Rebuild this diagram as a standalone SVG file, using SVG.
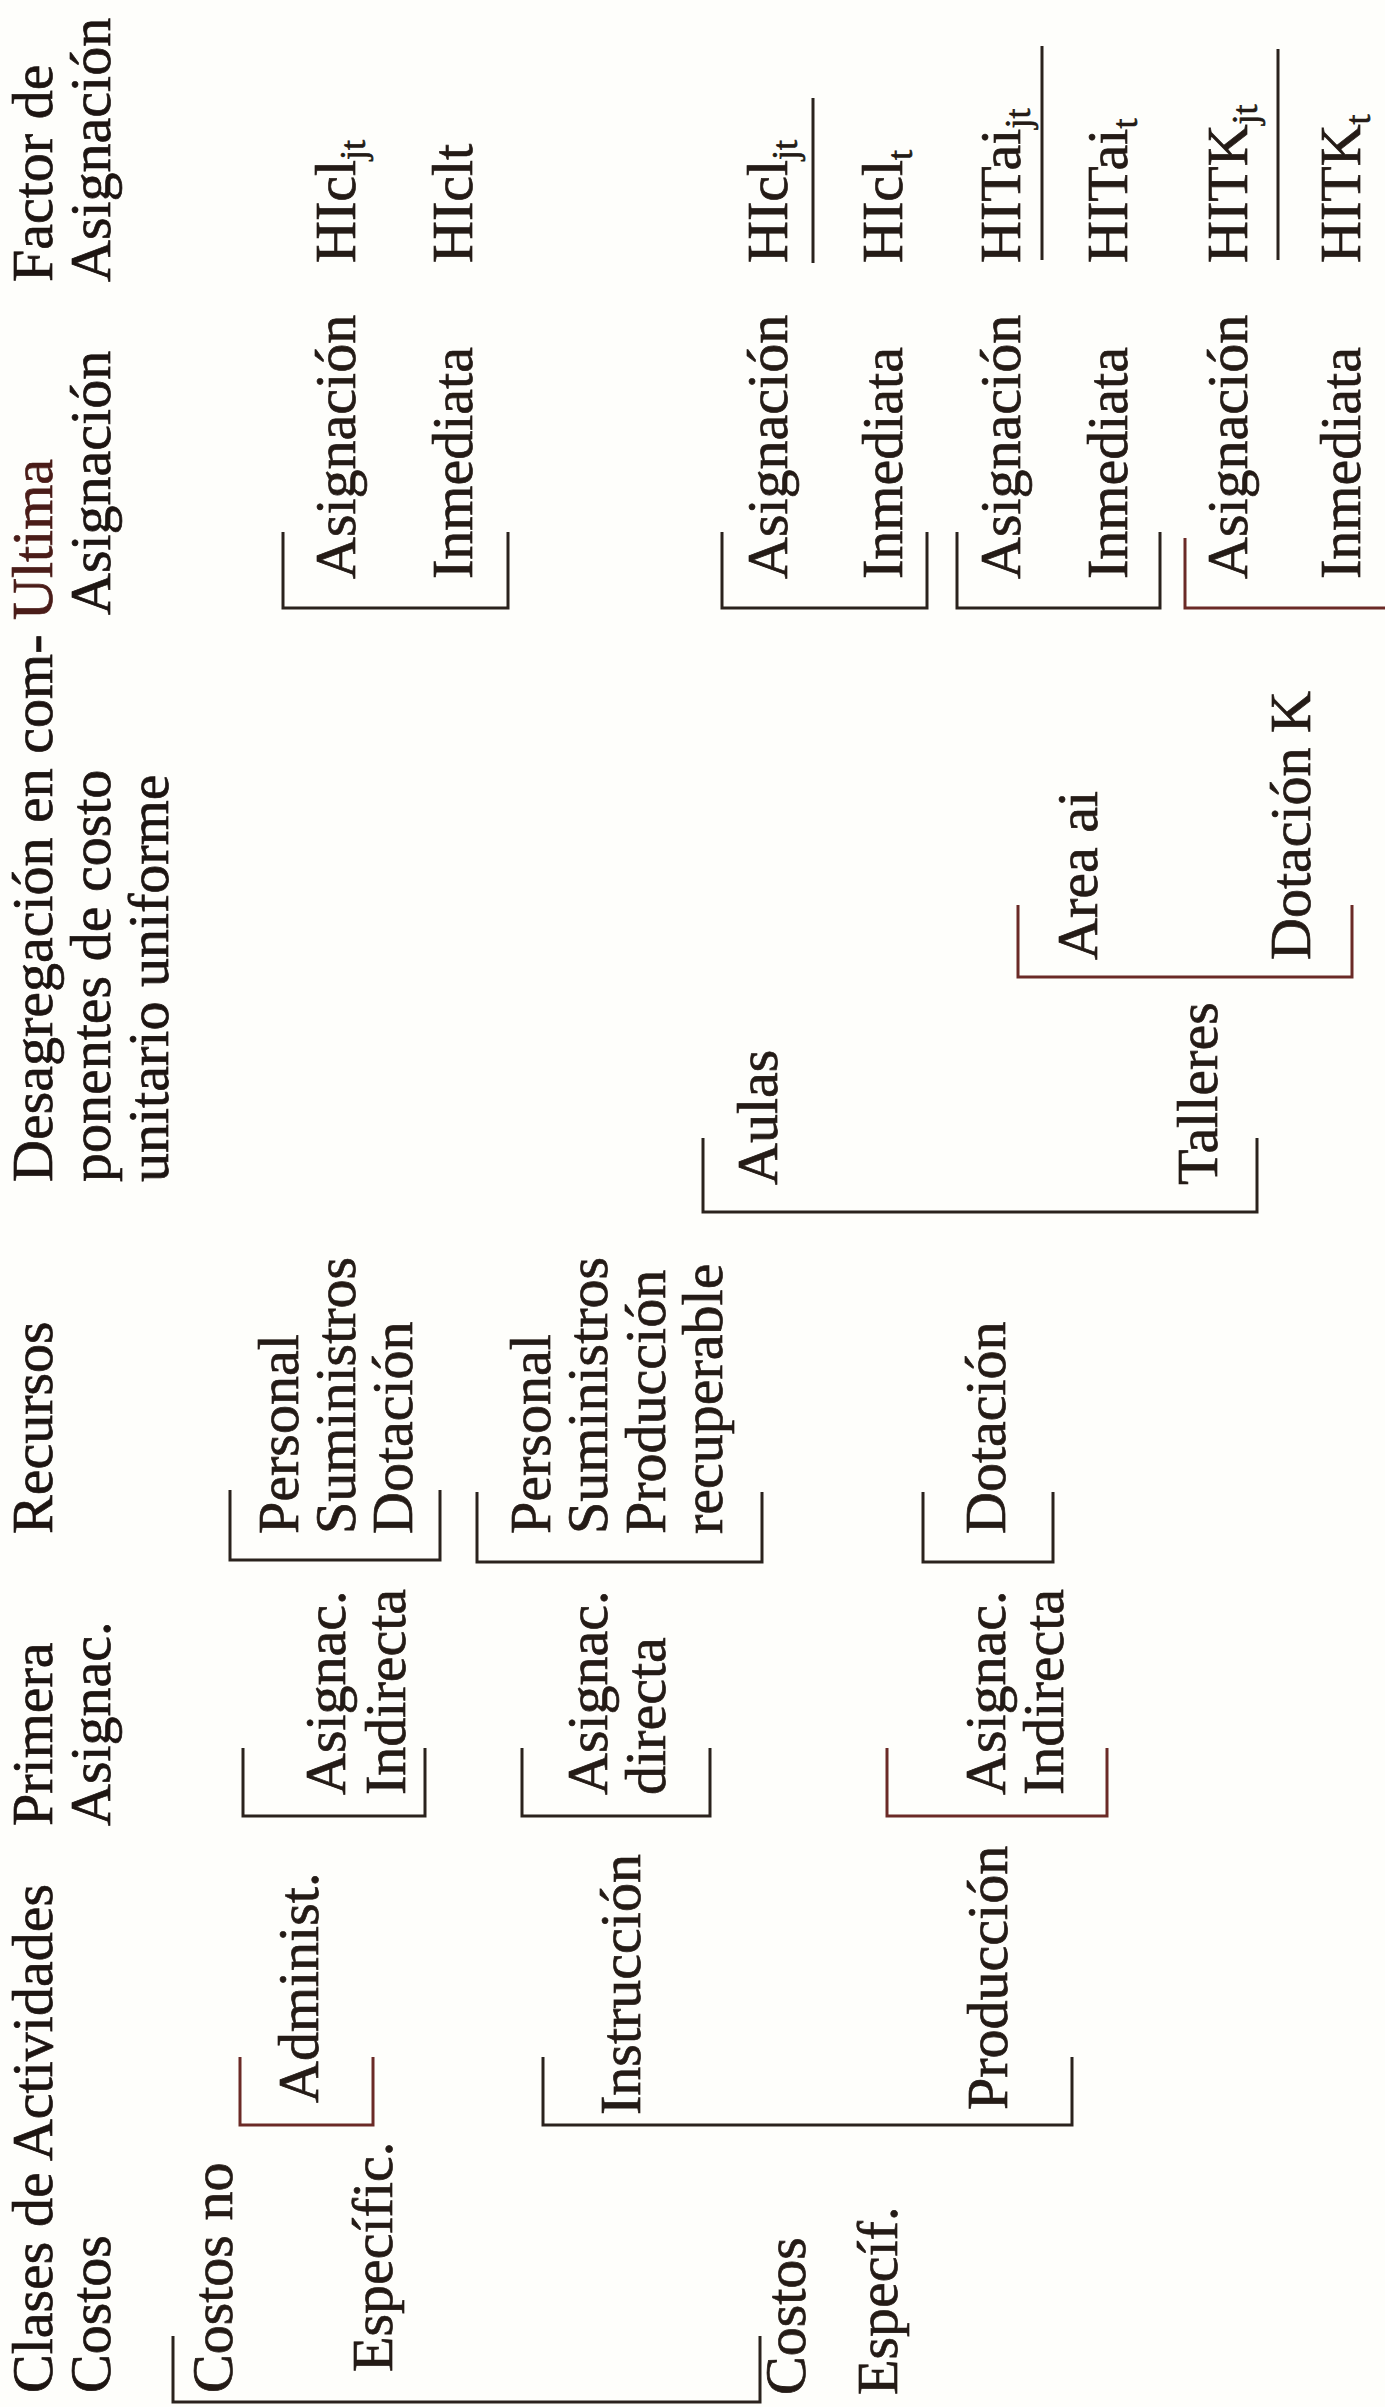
<svg xmlns="http://www.w3.org/2000/svg" width="1385" height="2407" viewBox="0 0 1385 2407">
<style>
text{font-family:"Liberation Serif","Times New Roman",serif;font-size:58px;fill:#241b16;stroke:#241b16;stroke-width:0.7}
.h{fill:#1d1512;stroke:#1d1512}
.r{fill:#4a1c18;stroke:#4a1c18}
.sub{font-size:36px}
.br{fill:none;stroke:#2a221d;stroke-width:3}
.red{stroke:#6b2a26}
.bar{stroke:#2a221d;stroke-width:3}
</style>
<rect width="1385" height="2407" fill="#fefefb"/>
<g id="headers">
<text class="h" transform="translate(52,2393) rotate(-90)">Clases de Actividades</text>
<text class="h" transform="translate(110,2393) rotate(-90)">Costos</text>
<text class="h" transform="translate(52,1826) rotate(-90)">Primera</text>
<text class="h" transform="translate(110,1826) rotate(-90)">Asignac.</text>
<text class="h" transform="translate(52,1534) rotate(-90)">Recursos</text>
<text class="h" transform="translate(52,1182) rotate(-90)">Desagregación en com-</text>
<text class="h" transform="translate(110,1182) rotate(-90)">ponentes de costo</text>
<text class="h" transform="translate(168,1182) rotate(-90)">unitario uniforme</text>
<text class="r" transform="translate(52,620) rotate(-90)">Ultima</text>
<text class="h" transform="translate(110,615) rotate(-90)">Asignación</text>
<text class="h" transform="translate(52,282) rotate(-90)">Factor de</text>
<text class="h" transform="translate(110,282) rotate(-90)">Asignación</text>
</g>
<g id="connectors">
<path class="br" d="M173,2336 V2402 H760 V2336"/>
<path class="br red" d="M240,2057 V2125 H373 V2057"/>
<path class="br" d="M543,2057 V2125 H1072 V2057"/>
<path class="br" d="M243,1748 V1816 H425 V1748"/>
<path class="br" d="M522,1748 V1816 H710 V1748"/>
<path class="br red" d="M887,1748 V1816 H1107 V1748"/>
<path class="br" d="M230,1490 V1560 H440 V1490"/>
<path class="br" d="M477,1492 V1562 H762 V1492"/>
<path class="br" d="M923,1492 V1562 H1053 V1492"/>
<path class="br" d="M703,1138 V1212 H1257 V1138"/>
<path class="br red" d="M1018,905 V977 H1352 V905"/>
<path class="br" d="M283,532 V608 H508 V532"/>
<path class="br" d="M722,532 V608 H927 V532"/>
<path class="br" d="M957,532 V608 H1160 V532"/>
<path class="br red" d="M1185,538 V608 H1385"/>
<line class="bar" x1="813" y1="263" x2="813" y2="98"/>
<line class="bar" x1="1042" y1="260" x2="1042" y2="46"/>
<line class="bar" x1="1278" y1="260" x2="1278" y2="49"/>
</g>
<g id="n-costos-no-especific">
<text transform="translate(232,2393) rotate(-90)">Costos no</text>
<text transform="translate(392,2372) rotate(-90)">Específic.</text>
</g>
<g id="n-administ"><text transform="translate(318,2103) rotate(-90)">Administ.</text></g>
<g id="n-costos-especif">
<text transform="translate(805,2395) rotate(-90)">Costos</text>
<text transform="translate(897,2395) rotate(-90)">Específ.</text>
</g>
<g id="n-instruccion"><text transform="translate(640,2115) rotate(-90)">Instrucción</text></g>
<g id="n-produccion"><text transform="translate(1007,2110) rotate(-90)">Producción</text></g>
<g id="n-asig-indirecta-1">
<text transform="translate(345,1795) rotate(-90)">Asignac.</text>
<text transform="translate(405,1795) rotate(-90)">Indirecta</text>
</g>
<g id="n-asig-directa">
<text transform="translate(607,1795) rotate(-90)">Asignac.</text>
<text transform="translate(665,1795) rotate(-90)">directa</text>
</g>
<g id="n-asig-indirecta-2">
<text transform="translate(1005,1795) rotate(-90)">Asignac.</text>
<text transform="translate(1063,1795) rotate(-90)">Indirecta</text>
</g>
<g id="n-recursos-1">
<text transform="translate(298,1534) rotate(-90)">Personal</text>
<text transform="translate(355,1534) rotate(-90)">Suministros</text>
<text transform="translate(412,1534) rotate(-90)">Dotación</text>
</g>
<g id="n-recursos-2">
<text transform="translate(550,1534) rotate(-90)">Personal</text>
<text transform="translate(607,1534) rotate(-90)">Suministros</text>
<text transform="translate(665,1534) rotate(-90)">Producción</text>
<text transform="translate(722,1534) rotate(-90)">recuperable</text>
</g>
<g id="n-recursos-3"><text transform="translate(1005,1534) rotate(-90)">Dotación</text></g>
<g id="n-aulas"><text transform="translate(777,1185) rotate(-90)">Aulas</text></g>
<g id="n-talleres"><text transform="translate(1217,1185) rotate(-90)">Talleres</text></g>
<g id="n-area-ai"><text transform="translate(1097,960) rotate(-90)">Area ai</text></g>
<g id="n-dotacion-k"><text transform="translate(1310,960) rotate(-90)">Dotación K</text></g>
<g id="n-ultima-1">
<text transform="translate(355,579) rotate(-90)">Asignación</text>
<text transform="translate(472,579) rotate(-90)">Inmediata</text>
</g>
<g id="n-ultima-2">
<text transform="translate(787,579) rotate(-90)">Asignación</text>
<text transform="translate(902,579) rotate(-90)">Inmediata</text>
</g>
<g id="n-ultima-3">
<text transform="translate(1020,579) rotate(-90)">Asignación</text>
<text transform="translate(1127,579) rotate(-90)">Inmediata</text>
</g>
<g id="n-ultima-4">
<text transform="translate(1247,579) rotate(-90)">Asignación</text>
<text transform="translate(1360,579) rotate(-90)">Inmediata</text>
</g>
<g id="n-factor-1">
<text transform="translate(355,263) rotate(-90)">HIcl<tspan class="sub" dy="10">jt</tspan></text>
<text transform="translate(472,263) rotate(-90)">HIclt</text>
</g>
<g id="n-factor-2">
<text transform="translate(787,263) rotate(-90)">HIcl<tspan class="sub" dy="10">jt</tspan></text>
<text transform="translate(902,263) rotate(-90)">HIcl<tspan class="sub" dy="10">t</tspan></text>
</g>
<g id="n-factor-3">
<text transform="translate(1020,263) rotate(-90)">HITai<tspan class="sub" dy="10">jt</tspan></text>
<text transform="translate(1127,263) rotate(-90)">HITai<tspan class="sub" dy="10">t</tspan></text>
</g>
<g id="n-factor-4">
<text transform="translate(1247,263) rotate(-90)">HITK<tspan class="sub" dy="10">jt</tspan></text>
<text transform="translate(1360,263) rotate(-90)">HITK<tspan class="sub" dy="10">t</tspan></text>
</g>
</svg>
